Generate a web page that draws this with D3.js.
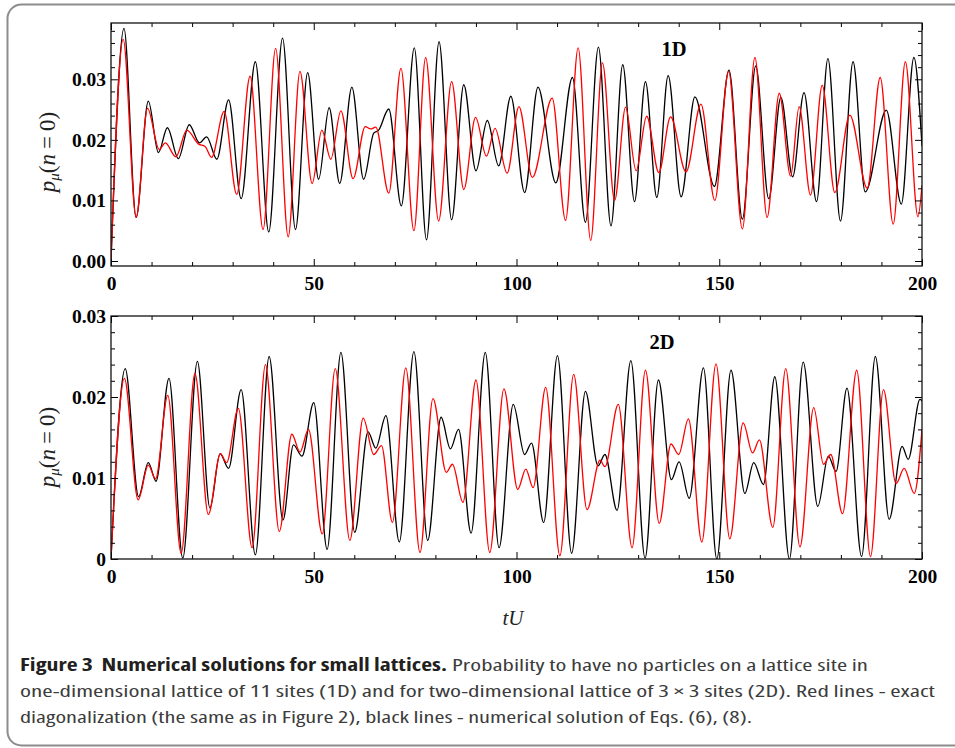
<!DOCTYPE html>
<html>
<head>
<meta charset="utf-8">
<script src="https://cdn.jsdelivr.net/npm/d3@7"></script>
<style>
  html, body { margin: 0; padding: 0; background: #fff; }
  svg { display: block; }
</style>
</head>
<body>
<svg id="chart" width="955" height="748"></svg>
<script>
// ---------------- DATA ----------------
const xTicks = [0, 50, 100, 150, 200];
const xMinorTicks = [10, 20, 30, 40, 60, 70, 80, 90, 110, 120, 130, 140, 160, 170, 180, 190];
const y1Ticks = [0, 0.01, 0.02, 0.03];
const y1TickLabels = ["0.00", "0.01", "0.02", "0.03"];
const y1MinorTicks = [0.002, 0.004, 0.006, 0.008, 0.012, 0.014, 0.016, 0.018, 0.022, 0.024, 0.026, 0.028, 0.032, 0.034, 0.036, 0.038];
const y2Ticks = [0, 0.01, 0.02, 0.03];
const y2TickLabels = ["0", "0.01", "0.02", "0.03"];
const y2MinorTicks = [0.002, 0.004, 0.006, 0.008, 0.012, 0.014, 0.016, 0.018, 0.022, 0.024, 0.026, 0.028];
const panelNames = ["1D", "2D"];

// 1D lattice: black = numerical solution, red = exact diagonalization  [tU, p]
const black1D = [[0,0],[3.2,0.0384],[6.2,0.0072],[9.2,0.0264],[11.7,0.0179],[13.9,0.0220],[16.6,0.0169],[19.3,0.0225],[21.8,0.0195],[23.6,0.0205],[26.1,0.0168],[29.0,0.0266],[32.1,0.0103],[35.6,0.0329],[38.9,0.0048],[42.3,0.0368],[45.5,0.0052],[48.5,0.0311],[51.2,0.0135],[53.8,0.0253],[56.4,0.0128],[59.4,0.0287],[62.3,0.0135],[64.8,0.0211],[66.0,0.0216],[68.5,0.0251],[71.6,0.0091],[74.8,0.0352],[77.8,0.0035],[80.9,0.0362],[84.0,0.0068],[87.0,0.0291],[90.0,0.0149],[92.8,0.0232],[95.6,0.0157],[98.6,0.0272],[102.0,0.0113],[105.3,0.0287],[109.7,0.0129],[113.8,0.0303],[117.0,0.0064],[120.2,0.0353],[123.3,0.0058],[126.2,0.0324],[129.1,0.0098],[131.8,0.0296],[134.6,0.0105],[137.4,0.0306],[140.6,0.0106],[144.0,0.0271],[148.8,0.0123],[152.4,0.0315],[155.7,0.0069],[159.0,0.0322],[162.2,0.0103],[165.2,0.0270],[168.1,0.0139],[170.9,0.0278],[174.0,0.0098],[176.8,0.0334],[179.9,0.0066],[183.0,0.0329],[186.0,0.0114],[191.2,0.0249],[194.9,0.0094],[198.0,0.0336],[200,0.0190]];
const red1D = [[0,0],[3.0,0.0366],[6.2,0.0072],[9.0,0.0252],[11.9,0.0184],[13.4,0.0195],[16.0,0.0172],[18.7,0.0216],[21.6,0.0193],[23.2,0.0189],[24.8,0.0171],[27.9,0.0247],[31.0,0.0110],[34.3,0.0305],[37.5,0.0052],[40.6,0.0351],[43.7,0.0040],[46.6,0.0313],[49.6,0.0128],[52.0,0.0216],[54.2,0.0168],[56.7,0.0248],[59.7,0.0136],[62.7,0.0222],[64.0,0.0218],[65.3,0.0221],[68.5,0.0112],[71.5,0.0318],[74.7,0.0050],[77.6,0.0336],[80.8,0.0066],[84.0,0.0296],[87.0,0.0118],[89.9,0.0237],[92.6,0.0173],[94.7,0.0219],[97.7,0.0145],[100.6,0.0255],[103.9,0.0138],[108.8,0.0269],[112.1,0.0067],[115.2,0.0352],[118.3,0.0034],[121.2,0.0327],[124.2,0.0100],[126.9,0.0254],[129.5,0.0149],[132.1,0.0239],[135.1,0.0146],[138.0,0.0238],[141.8,0.0147],[145.5,0.0259],[148.9,0.0100],[152.3,0.0313],[155.7,0.0053],[158.8,0.0336],[161.8,0.0072],[164.8,0.0277],[167.6,0.0140],[169.7,0.0255],[172.5,0.0109],[175.4,0.0290],[178.5,0.0113],[182.2,0.0241],[186.5,0.0120],[189.7,0.0303],[192.9,0.0061],[195.9,0.0329],[199.0,0.0073],[200,0.0125]];

// 2D lattice (3 x 3)
const black2D = [[0,0],[3.5,0.0235],[6.8,0.0077],[9.2,0.0119],[11.1,0.0096],[14.3,0.0223],[17.7,0.0001],[21.3,0.0244],[24.4,0.0063],[26.9,0.0130],[29.0,0.0112],[32.1,0.0209],[35.6,0.0005],[39.0,0.0250],[42.4,0.0048],[45.0,0.0141],[47.1,0.0127],[50.0,0.0193],[53.3,0.0012],[56.7,0.0255],[60.1,0.0033],[63.4,0.0157],[65.3,0.0137],[67.8,0.0177],[71.1,0.0021],[74.7,0.0256],[78.1,0.0023],[81.4,0.0175],[83.7,0.0136],[85.7,0.0160],[88.8,0.0032],[92.3,0.0255],[95.7,0.0014],[99.2,0.0191],[102.0,0.0129],[103.7,0.0143],[106.7,0.0045],[110.1,0.0251],[113.6,0.0007],[117.0,0.0207],[120.1,0.0115],[121.8,0.0129],[124.8,0.0060],[128.2,0.0245],[131.7,0.0001],[135.0,0.0221],[138.2,0.0098],[140.1,0.0120],[142.6,0.0075],[146.1,0.0236],[149.4,0.0000],[152.9,0.0233],[156.3,0.0081],[158.5,0.0119],[160.9,0.0092],[163.7,0.0225],[167.3,0.0000],[170.7,0.0243],[174.3,0.0065],[176.9,0.0127],[178.8,0.0108],[181.5,0.0211],[185.1,0.0003],[188.5,0.0250],[191.9,0.0049],[195.1,0.0139],[196.6,0.0123],[199.5,0.0197],[200,0.0195]];
const red2D = [[0,0],[3.3,0.0223],[6.7,0.0073],[9.2,0.0116],[11.0,0.0099],[14.0,0.0202],[17.3,0.0007],[20.7,0.0229],[24.0,0.0055],[27.0,0.0130],[28.5,0.0119],[31.4,0.0186],[34.8,0.0014],[38.1,0.0240],[41.5,0.0034],[44.6,0.0154],[46.6,0.0132],[48.7,0.0160],[52.1,0.0031],[55.3,0.0235],[58.9,0.0023],[62.2,0.0174],[64.8,0.0129],[66.7,0.0140],[69.4,0.0045],[72.7,0.0236],[76.2,0.0008],[79.4,0.0198],[82.7,0.0107],[84.2,0.0117],[86.8,0.0070],[90.0,0.0221],[93.4,0.0008],[96.9,0.0210],[100.3,0.0086],[102.3,0.0111],[104.1,0.0088],[107.2,0.0212],[110.7,0.0004],[114.1,0.0228],[117.4,0.0061],[120.6,0.0122],[121.8,0.0114],[125.1,0.0191],[128.5,0.0014],[131.8,0.0233],[135.2,0.0044],[138.1,0.0142],[140.0,0.0129],[142.4,0.0173],[145.7,0.0021],[149.2,0.0241],[152.6,0.0025],[155.9,0.0168],[158.2,0.0131],[159.9,0.0147],[163.2,0.0039],[166.4,0.0235],[169.9,0.0015],[173.3,0.0187],[175.7,0.0117],[177.5,0.0129],[180.4,0.0056],[183.9,0.0233],[187.3,0.0003],[190.5,0.0209],[193.6,0.0093],[195.6,0.0112],[198.1,0.0081],[200,0.0160]];

const captionBold = "Figure 3\u00a0\u00a0Numerical solutions for small lattices.";
const captionLines = [
  "Probability to have no particles on a lattice site in",
  "one-dimensional lattice of 11 sites (1D) and for two-dimensional lattice of 3 \u00d7 3 sites (2D). Red lines - exact",
  "diagonalization (the same as in Figure 2), black lines - numerical solution of Eqs. (6), (8)."
];

// ---------------- DRAW ----------------
const svg = d3.select("#chart");
const serif = "'Liberation Serif', 'Times New Roman', serif";

// outer rounded box
svg.append("rect")
  .attr("x", 7.5).attr("y", 4.5).attr("width", 985).attr("height", 741)
  .attr("rx", 14).attr("ry", 14)
  .attr("fill", "none").attr("stroke", "#8c8c8c").attr("stroke-width", 2);

const x = d3.scaleLinear().domain([0, 200]).range([111, 922]);

const panels = [
  { top: 23, bottom: 266, y: d3.scaleLinear().domain([0, 0.03]).range([261, 79.3]),
    ticks: y1Ticks, labels: y1TickLabels, minor: y1MinorTicks, black: black1D, red: red1D,
    name: panelNames[0], nameX: 674, nameY: 56, labelY: 152 },
  { top: 316, bottom: 559, y: d3.scaleLinear().domain([0, 0.03]).range([559, 316]),
    ticks: y2Ticks, labels: y2TickLabels, minor: y2MinorTicks, black: black2D, red: red2D,
    name: panelNames[1], nameX: 662, nameY: 349, labelY: 447 }
];

panels.forEach((p, i) => {
  const g = svg.append("g");
  const clipId = "clip" + i;
  svg.append("clipPath").attr("id", clipId).append("rect")
    .attr("x", 111).attr("y", p.top).attr("width", 811).attr("height", p.bottom - p.top);

  const line = d3.line()
    .x(d => x(d[0])).y(d => p.y(d[1]))
    .curve(d3.curveMonotoneX);

  const lines = g.append("g").attr("clip-path", `url(#${clipId})`);
  lines.append("path").datum(p.black)
    .attr("d", line).attr("fill", "none").attr("stroke", "#000").attr("stroke-width", 1.3);
  lines.append("path").datum(p.red)
    .attr("d", line).attr("fill", "none").attr("stroke", "#ff0000").attr("stroke-width", 1.3);

  // axes (inward ticks on all four sides)
  const styleAxis = sel => {
    sel.select(".domain").remove();
    sel.selectAll("line").attr("stroke", "#000").attr("stroke-width", 1);
    sel.selectAll("text").attr("font-family", serif).attr("font-weight", "bold")
      .attr("font-size", 19.5).attr("fill", "#000");
  };
  g.append("g").attr("transform", `translate(0,${p.bottom})`)
    .call(d3.axisBottom(x).tickValues(xTicks).tickSize(-7).tickPadding(10).tickFormat(d3.format("d")))
    .call(styleAxis);
  g.append("g").attr("transform", `translate(0,${p.bottom})`)
    .call(d3.axisBottom(x).tickValues(xMinorTicks).tickSize(-4).tickFormat(""))
    .call(styleAxis);
  g.append("g").attr("transform", `translate(0,${p.top})`)
    .call(d3.axisTop(x).tickValues(xTicks).tickSize(-7).tickFormat(""))
    .call(styleAxis);
  g.append("g").attr("transform", `translate(0,${p.top})`)
    .call(d3.axisTop(x).tickValues(xMinorTicks).tickSize(-4).tickFormat(""))
    .call(styleAxis);
  g.append("g").attr("transform", `translate(111,0)`)
    .call(d3.axisLeft(p.y).tickValues(p.ticks).tickSize(-7).tickPadding(5)
      .tickFormat((d, k) => p.labels[k]))
    .call(styleAxis);
  g.append("g").attr("transform", `translate(111,0)`)
    .call(d3.axisLeft(p.y).tickValues(p.minor).tickSize(-4).tickFormat(""))
    .call(styleAxis);
  g.append("g").attr("transform", `translate(922,0)`)
    .call(d3.axisRight(p.y).tickValues(p.ticks).tickSize(-7).tickFormat(""))
    .call(styleAxis);
  g.append("g").attr("transform", `translate(922,0)`)
    .call(d3.axisRight(p.y).tickValues(p.minor).tickSize(-4).tickFormat(""))
    .call(styleAxis);

  // frame
  g.append("rect").attr("x", 111).attr("y", p.top).attr("width", 811).attr("height", p.bottom - p.top)
    .attr("fill", "none").attr("stroke", "#111").attr("stroke-width", 1.3);

  // panel name
  g.append("text").attr("x", p.nameX).attr("y", p.nameY).attr("text-anchor", "middle")
    .attr("font-family", serif).attr("font-weight", "bold").attr("font-size", 20.5)
    .text(p.name);

  // y-axis label p_mu(n = 0)
  const yl = g.append("text")
    .attr("transform", `translate(55,${p.labelY}) rotate(-90)`)
    .attr("text-anchor", "middle")
    .attr("font-family", serif).attr("font-size", 23).attr("fill", "#222");
  yl.append("tspan").attr("font-style", "italic").text("p");
  yl.append("tspan").attr("font-style", "italic").attr("font-size", 15).attr("dy", 4).text("\u03bc");
  yl.append("tspan").attr("dy", -4).text("(");
  yl.append("tspan").attr("font-style", "italic").text("n");
  yl.append("tspan").attr("dx", 5).text("=");
  yl.append("tspan").attr("dx", 5).text("0)");
});

// x-axis title
svg.append("text").attr("x", 513).attr("y", 625).attr("text-anchor", "middle")
  .attr("font-family", serif).attr("font-style", "italic").attr("font-size", 21).attr("fill", "#222")
  .text("tU");

// caption
const capFont = "'Open Sans', 'Noto Sans', sans-serif";
svg.append("text").attr("x", 20).attr("y", 671)
  .attr("font-family", capFont).attr("font-size", 17).attr("font-weight", "bold")
  .attr("font-stretch", "condensed").attr("fill", "#231f20")
  .attr("textLength", 427).attr("lengthAdjust", "spacingAndGlyphs")
  .text(captionBold);
const capStart = [452, 20, 20];
const capWidths = [416, 915, 732];
const capY = [671, 697, 723];
captionLines.forEach((txt, i) => {
  svg.append("text").attr("x", capStart[i]).attr("y", capY[i])
    .attr("font-family", capFont).attr("font-size", 17).attr("font-stretch", "condensed")
    .attr("fill", "#3c3c3c")
    .attr("textLength", capWidths[i]).attr("lengthAdjust", "spacingAndGlyphs")
    .text(txt);
});
</script>
</body>
</html>
